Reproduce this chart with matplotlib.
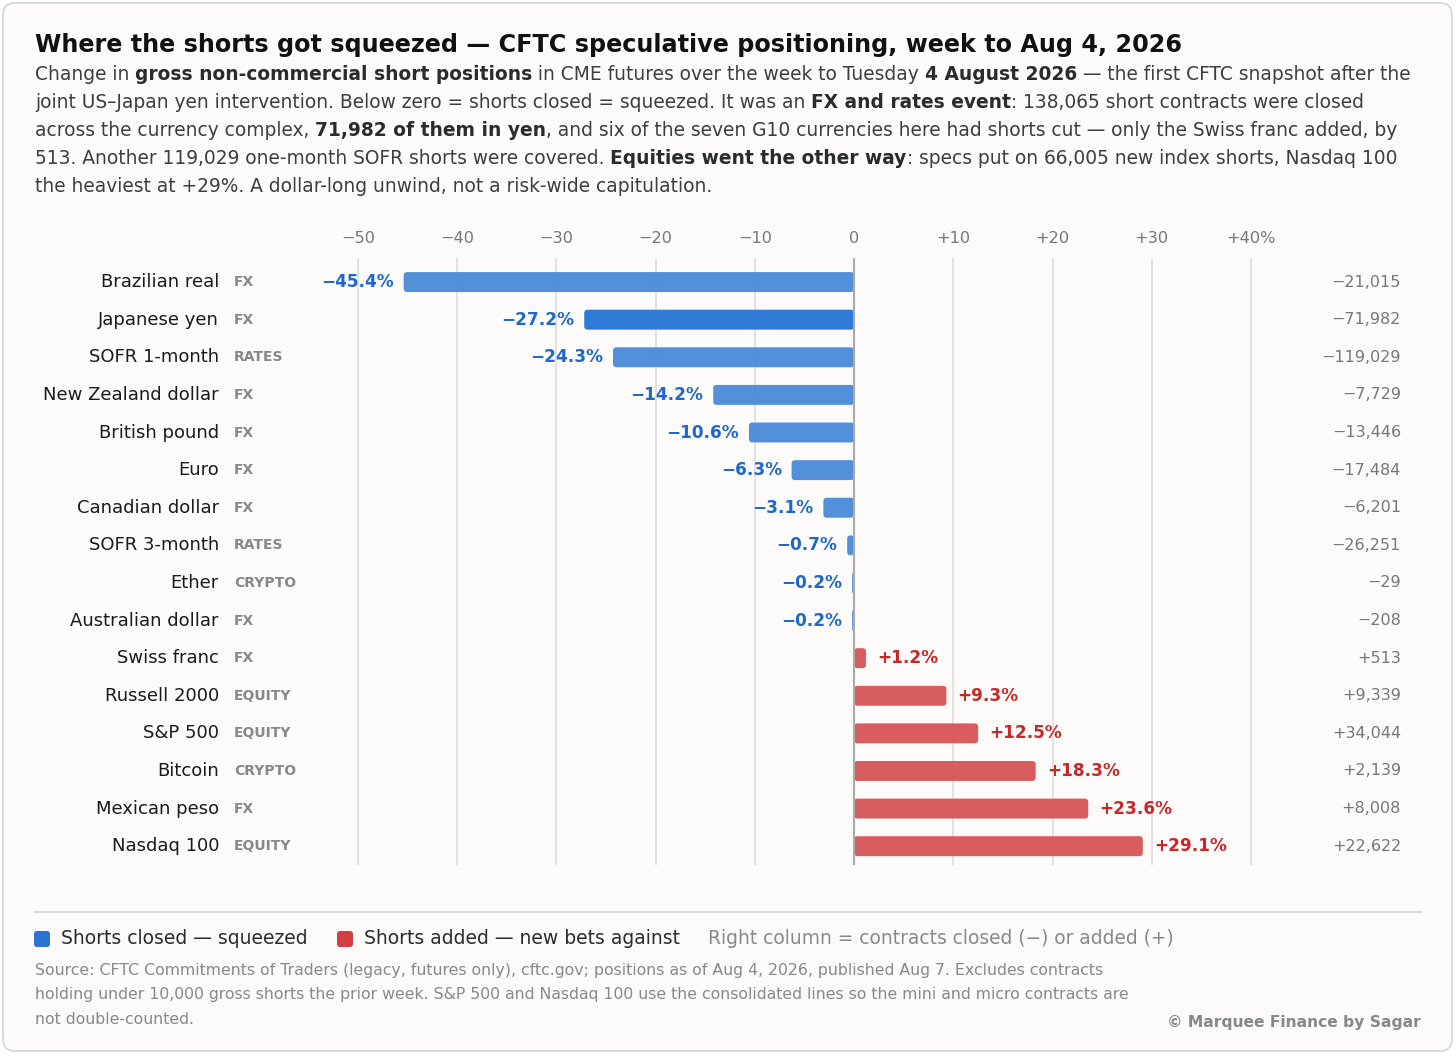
import matplotlib
matplotlib.use('Agg')
import matplotlib.pyplot as plt
from matplotlib.patches import FancyBboxPatch
from matplotlib.lines import Line2D
from matplotlib.transforms import Affine2D, blended_transform_factory

# ---- data ----
names = ['Brazilian real', 'Japanese yen', 'SOFR 1-month', 'New Zealand dollar',
         'British pound', 'Euro', 'Canadian dollar', 'SOFR 3-month', 'Ether',
         'Australian dollar', 'Swiss franc', 'Russell 2000', 'S&P 500', 'Bitcoin',
         'Mexican peso', 'Nasdaq 100']
tags = ['FX', 'FX', 'RATES', 'FX', 'FX', 'FX', 'FX', 'RATES', 'CRYPTO', 'FX',
        'FX', 'EQUITY', 'EQUITY', 'CRYPTO', 'FX', 'EQUITY']
pct = [-45.4, -27.2, -24.3, -14.2, -10.6, -6.3, -3.1, -0.7, -0.2, -0.2,
       1.2, 9.3, 12.5, 18.3, 23.6, 29.1]
contracts = [-21015, -71982, -119029, -7729, -13446, -17484, -6201, -26251,
             -29, -208, 513, 9339, 34044, 2139, 8008, 22622]
highlight = 'Japanese yen'
ticks = [-50, -40, -30, -20, -10, 0, 10, 20, 30, 40]

BLUE = '#4a8ad9'
BLUE_HI = '#2474d6'
RED = '#d65456'
BLUE_TXT = '#1f68c9'
RED_TXT = '#c62828'
BG = '#fcfbf9'

W, H = 1456, 1056
fig = plt.figure(figsize=(W / 100, H / 100), dpi=100)
fig.patch.set_facecolor('white')
# pixel coords measured from top-left
px = Affine2D().scale(1 / W, -1 / H).translate(0, 1) + fig.transFigure

card = FancyBboxPatch((3, 3), 1449, 1048, boxstyle='round,pad=0,rounding_size=12',
                      transform=px, fc=BG, ec='#d4d4d4', lw=1.2, zorder=0)
fig.add_artist(card)

# ---- title and subtitle ----
fig.text(35, 45, 'Where the shorts got squeezed \u2014 CFTC speculative positioning, week to Aug 4, 2026',
         transform=px, fontsize=17.2, fontweight='bold', color='#111111', va='center')

sub_lines = [
    [('Change in ', False), ('gross non-commercial short positions', True),
     (' in CME futures over the week to Tuesday ', False), ('4 August 2026', True),
     (' \u2014 the first CFTC snapshot after the', False)],
    [('joint US\u2013Japan yen intervention. Below zero = shorts closed = squeezed. It was an ', False),
     ('FX and rates event', True), (': 138,065 short contracts were closed', False)],
    [('across the currency complex, ', False), ('71,982 of them in yen', True),
     (', and six of the seven G10 currencies here had shorts cut \u2014 only the Swiss franc added, by', False)],
    [('513. Another 119,029 one-month SOFR shorts were covered. ', False),
     ('Equities went the other way', True),
     (': specs put on 66,005 new index shorts, Nasdaq 100', False)],
    [('the heaviest at +29%. A dollar-long unwind, not a risk-wide capitulation.', False)],
]
renderer = fig.canvas.get_renderer()
for k, segs in enumerate(sub_lines):
    x = 35
    y = 75 + 28 * k
    for s, bold in segs:
        t = fig.text(x, y, s, transform=px, fontsize=13.45, va='center',
                     fontweight='bold' if bold else 'normal',
                     color='#2b2b2b' if bold else '#3d3d3d')
        x += t.get_window_extent(renderer).width

# ---- chart ----
ax = fig.add_axes([300 / W, 1 - 865 / H, 1000 / W, (865 - 258) / H])
ax.set_facecolor('none')
ypos = list(range(len(names)))
colors = [RED if v > 0 else (BLUE_HI if n == highlight else BLUE) for n, v in zip(names, pct)]
bars = ax.barh(ypos, pct, height=0.53, color=colors)

xpp = 10 / 99.2
ypp = 1 / 37.6
aspect = ypp / xpp
for b in bars:
    x0, y0, w, h = b.get_x(), b.get_y(), b.get_width(), b.get_height()
    if w < 0:
        x0, w = x0 + w, -w
    r = min(0.35, w / 2)
    p = FancyBboxPatch((x0, y0), w, h, boxstyle=f'round,pad=0,rounding_size={r}',
                       mutation_aspect=aspect, fc=b.get_facecolor(), ec='none',
                       alpha=0.95, zorder=3)
    ax.add_patch(p)
    b.set_visible(False)

ax.set_xlim(-50 - 58 * xpp, 40 + 49 * xpp)
ax.set_ylim(15.5, -0.64)
for s in ax.spines.values():
    s.set_visible(False)
ax.set_yticks([])
ax.xaxis.tick_top()
ax.set_xticks(ticks)


def fmt(v):
    if v == 0:
        return '0'
    s = f'{v:+d}'.replace('-', '\u2212')
    return s + '%' if v == ticks[-1] else s


ax.set_xticklabels([fmt(v) for v in ticks])
ax.tick_params(axis='x', length=0, pad=8.5, labelsize=11.6, labelcolor='#777777')
for v in ticks:
    if v == 0:
        ax.axvline(v, color='#aaaaaa', lw=1.5, zorder=4)
    else:
        ax.axvline(v, color='#e0e0e0', lw=1.3, zorder=1)

for i, v in enumerate(pct):
    lab = f'{v:+.1f}%'.replace('-', '\u2212')
    if v < 0:
        ax.annotate(lab, (v, i), xytext=(-7, 0), textcoords='offset points',
                    ha='right', va='center', fontsize=12.2, fontweight='bold', color=BLUE_TXT)
    else:
        ax.annotate(lab, (v, i), xytext=(8, 0), textcoords='offset points',
                    ha='left', va='center', fontsize=12.2, fontweight='bold', color=RED_TXT)

tr = blended_transform_factory(fig.transFigure, ax.transData)
for i, (n, t, c) in enumerate(zip(names, tags, contracts)):
    ax.text(219 / W, i, n, transform=tr, ha='right', va='center', fontsize=13, color='#1a1a1a')
    ax.text(234 / W, i, t, transform=tr, ha='left', va='center', fontsize=10,
            fontweight='bold', color='#888888')
    ax.text(1401 / W, i, f'{c:+,d}'.replace('-', '\u2212'), transform=tr, ha='right',
            va='center', fontsize=11.5, color='#777777')

# ---- legend and footer ----
fig.add_artist(Line2D([35, 1421], [912, 912], transform=px, color='#dcdcdc', lw=1.5))
for x0, col, txt in [(34, '#2c74d4', 'Shorts closed \u2014 squeezed'),
                     (337, '#d23f42', 'Shorts added \u2014 new bets against')]:
    fig.add_artist(FancyBboxPatch((x0, 931), 16, 16, boxstyle='round,pad=0,rounding_size=3',
                                  transform=px, fc=col, ec='none'))
    fig.text(x0 + 27, 939, txt, transform=px, fontsize=13.5, color='#2b2b2b', va='center')
fig.text(708, 939, 'Right column = contracts closed (\u2212) or added (+)', transform=px,
         fontsize=13.4, color='#888888', va='center')

source = ['Source: CFTC Commitments of Traders (legacy, futures only), cftc.gov; positions as of Aug 4, 2026, published Aug 7. Excludes contracts',
          'holding under 10,000 gross shorts the prior week. S&P 500 and Nasdaq 100 use the consolidated lines so the mini and micro contracts are',
          'not double-counted.']
for k, s in enumerate(source):
    fig.text(35, 971 + 24 * k, s, transform=px, fontsize=11.3, color='#888888', va='center')
fig.text(1421, 1022, '\u00a9 Marquee Finance by Sagar', transform=px, fontsize=11.2,
         fontweight='bold', color='#888888', va='center', ha='right')

fig.savefig('out.png', dpi=100, facecolor=fig.get_facecolor())
